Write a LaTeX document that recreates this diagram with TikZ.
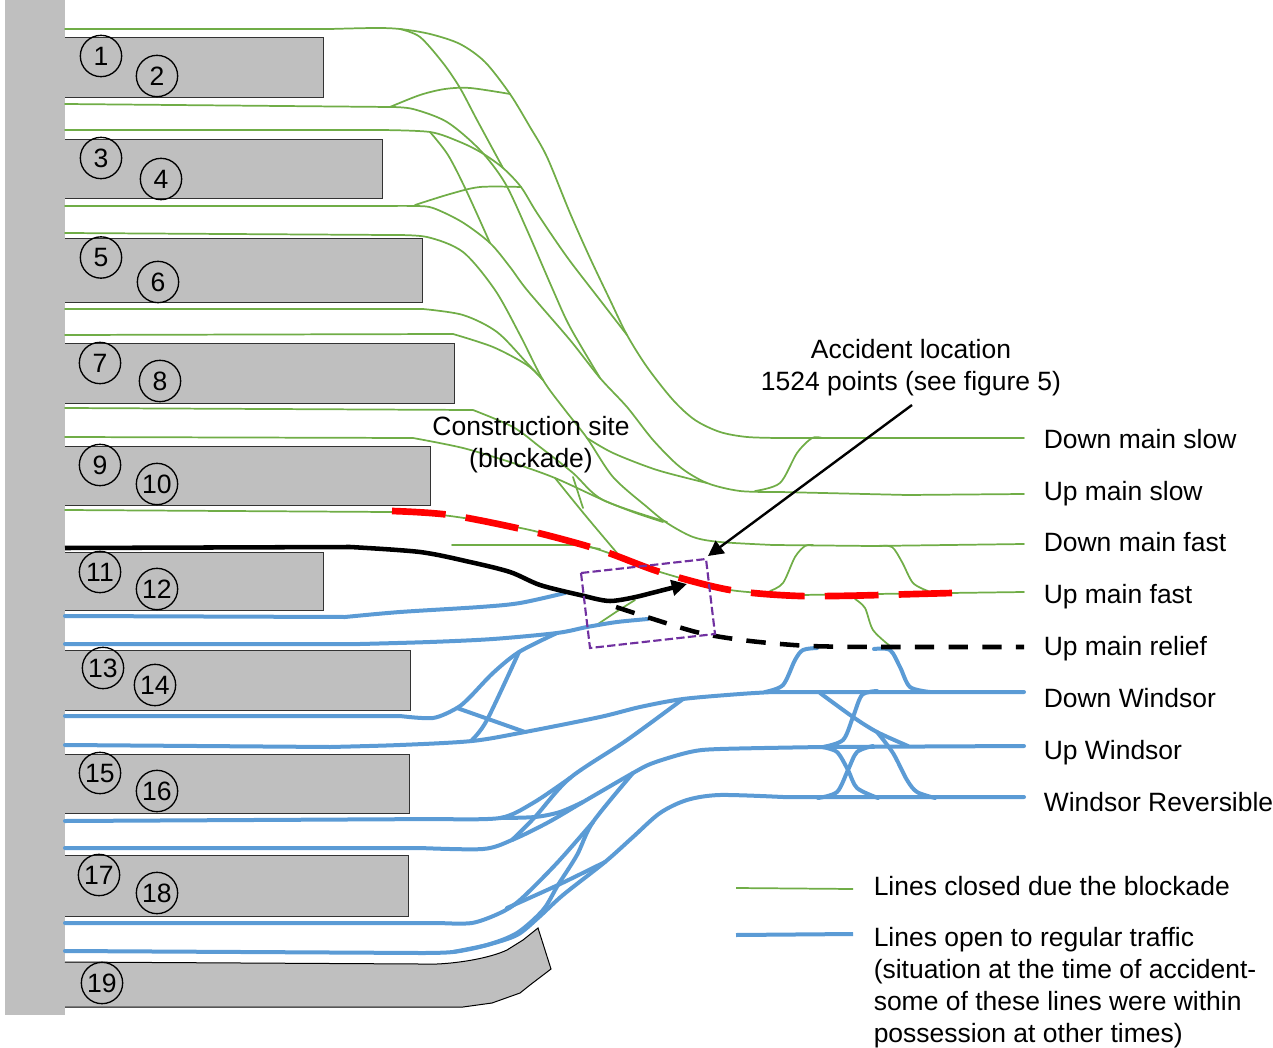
\documentclass[tikz,border=0pt]{standalone}
\usepackage{fontspec}
\setmainfont{Liberation Sans}
\usetikzlibrary{arrows.meta}
\tikzset{
  greenl/.style={draw=trkgreen,line width=1.3pt,line cap=round,line join=round},
  bluel/.style={draw=trkblue,line width=3pt,line cap=round,line join=round},
  plat/.style={fill=platgray,draw=black!80,line width=0.75pt},
  num/.style={circle,draw=black,line width=1pt,minimum size=31pt,inner sep=0pt,font=\fontsize{19.9}{24}\selectfont},
  lab/.style={anchor=west,inner sep=0pt,text height=14.3pt,text depth=0pt,font=\fontsize{19.85}{24}\selectfont},
  legendtxt/.style={anchor=west,inner sep=0pt,align=left,font=\fontsize{19.85}{24}\selectfont},
  note/.style={inner sep=0pt,align=center,font=\fontsize{19.85}{24}\selectfont},
}
\definecolor{trkgreen}{HTML}{70AD47}
\definecolor{trkblue}{HTML}{5B9BD5}
\definecolor{platgray}{HTML}{BFBFBF}
\definecolor{boxpurple}{HTML}{7030A0}
\newcommand\trk[2]{\draw[#1] plot[smooth,tension=0.5] coordinates {#2};}
\begin{document}
\begin{tikzpicture}[x=0.75pt,y=-0.75pt]
\useasboundingbox (0,0) rectangle (1273,1048);
% station
\fill[platgray] (5,0) rectangle (65,1015);
\draw[plat] (65,37.7) -- (323,37.7) -- (323,97.7) -- (65,97.7);
\draw[plat] (65,139.7) -- (382,139.7) -- (382,198.7) -- (65,198.7);
\draw[plat] (65,238.7) -- (422,238.7) -- (422,302.7) -- (65,302.7);
\draw[plat] (65,343.4) -- (454,343.4) -- (454,403.4) -- (65,403.4);
\draw[plat] (65,446) -- (430,446) -- (430,505.4) -- (65,505.4);
\draw[plat] (65,552) -- (323,552) -- (323,610) -- (65,610);
\draw[plat] (65,650) -- (410,650) -- (410,710) -- (65,710);
\draw[plat] (65,754) -- (409,754) -- (409,813) -- (65,813);
\draw[plat] (65,855) -- (408,855) -- (408,916) -- (65,916);
\fill[platgray] (65,962) -- (420,964) -- (437,964) .. controls (460,963) and (490,958) .. (507,950) -- (523,940) -- (538,928) -- (551,969) -- (530,985) -- (520,993) -- (492,1003) -- (463,1007) -- (65,1007) -- cycle;
\draw[black,line width=0.75pt] (65,962) -- (420,964) -- (437,964) .. controls (460,963) and (490,958) .. (507,950) -- (523,940) -- (538,928) -- (551,969) -- (530,985) -- (520,993) -- (492,1003) -- (463,1007) -- (65,1007);
% green tracks
\draw[greenl] (65,29) -- plot[smooth,tension=0.5] coordinates {(330,29) (375,28) (400,29) (430,34) (460,44) (485,62) (510,94) (530,127) (547,157) (570,213) (590,258) (610,300) (627,335) (647,367) (673,400) (695,420) (720,432) (747,437) (780,438)} -- (1024,438);
\trk{greenl}{(400,29) (420,37) (443,63) (460,88) (477,120) (503,168)}
\trk{greenl}{(390,107) (420,95) (445,89) (470,88) (510,94)}
\draw[greenl] (65,104) -- plot[smooth,tension=0.5] coordinates {(390,107) (413,109) (447,122) (480,150) (505,183) (527,230) (553,290) (570,327) (600,378)};
\draw[greenl] (65,130) -- plot[smooth,tension=0.5] coordinates {(380,130) (430,132) (460,142) (482,153) (503,168) (521,187) (537,213) (567,257) (600,300) (627,335)};
\trk{greenl}{(430,132) (448,155) (466,190) (490,243)}
\trk{greenl}{(415,205) (450,194) (480,187) (521,187)}
\draw[greenl] (65,206) -- plot[smooth,tension=0.5] coordinates {(380,206) (415,206) (433,208) (462,222) (490,243) (510,267) (527,290) (570,340) (600,378) (627,407) (653,440) (680,467) (707,483) (740,491) (780,492)} -- (823,493) -- (907,495) -- (1024,494);
\draw[greenl] (65,233) -- plot[smooth,tension=0.5] coordinates {(390,235) (427,237) (463,252) (495,290) (520,335) (543,380) (565,410) (587,438) (613,477) (647,507) (667,523) (693,537) (720,542) (773,545)} -- (873,546) -- (1024,544);
\draw[greenl] (65,309) -- plot[smooth,tension=0.5] coordinates {(423,309) (463,315) (497,332) (527,363) (543,380)};
\draw[greenl] (65,335) -- plot[smooth,tension=0.5] coordinates {(453,334) (493,347) (527,365) (543,380)};
\trk{greenl}{(587,438) (613,453) (657,470) (707,483)}
\draw[greenl] (65,408) -- plot[smooth,tension=0.5] coordinates {(473,410) (513,427) (540,447) (573,473) (603,500) (667,522)};
\draw[greenl] (65,437) -- plot[smooth,tension=0.5] coordinates {(413,438) (463,448) (513,463) (555,478) (603,500) (633,512) (663,522)};
\trk{greenl}{(555,478) (585,515) (617,553)}
\trk{greenl}{(573,477) (583,508)}
\draw[greenl] (65,510) -- plot[smooth,tension=0.5] coordinates {(390,512) (450,516) (530,530) (600,550) (660,572) (730,590) (800,595)} -- (1024,592);
\draw[greenl] (452,545) -- (577,545) -- (600,549);
\trk{greenl}{(755,491) (780,483) (797,453) (812,438) (822,438)}
\trk{greenl}{(770,591) (783,583) (795,557) (805,546) (813,545)}
\trk{greenl}{(878,546) (892,547) (902,562) (913,583) (928,591)}
\trk{greenl}{(855,599) (865,608) (873,630) (890,646)}
\trk{greenl}{(598,624) (616,612) (635,600)}
% red
\draw[red,line width=5pt,dash pattern=on 40.3pt off 15.15pt] plot[smooth,tension=0.5] coordinates {(392,511) (450,515) (530,531) (600,550) (660,572) (730,590) (800,596) (880,595)} -- (952,593);
% blue tracks
\draw[bluel] (65,616) -- (345,617) -- plot[smooth,tension=0.5] coordinates {(345,617) (400,612) (480,607) (520,603) (565,593)};
\draw[bluel] (65,644) -- (360,644) -- plot[smooth,tension=0.5] coordinates {(360,644) (430,642) (493,639) (557,633) (587,627) (617,622) (648,619)};
\draw[bluel] (65,716) -- plot[smooth,tension=0.5] coordinates {(400,716) (433,718) (457,708) (470,697) (493,673) (519,652) (557,633)};
\trk{bluel}{(519,652) (487,720) (472,740)}
\trk{bluel}{(457,708) (525,732)}
\draw[bluel] (65,745) -- plot[smooth,tension=0.5] coordinates {(330,747) (400,745) (472,741) (525,732) (600,717) (640,707) (683,699) (740,694) (773,692)} -- (1024,692);
\trk{bluel}{(683,699) (627,740) (570,778) (535,817) (512,840)}
\draw[bluel] (65,821) -- plot[smooth,tension=0.5] coordinates {(440,819) (500,818) (533,803) (570,778)};
\trk{bluel}{(500,818) (535,817) (560,812) (583,802)}
\draw[bluel] (65,848) -- plot[smooth,tension=0.5] coordinates {(420,848) (483,849) (512,840) (547,823) (583,802) (633,773) (653,763) (690,752) (720,749) (823,747)} -- (1024,746);
\trk{bluel}{(633,773) (593,822) (577,855) (558,885) (543,910) (517,933) (487,945) (453,952) (420,953)}
\draw[bluel] (65,951) -- (420,953);
\draw[bluel] (65,923) -- plot[smooth,tension=0.5] coordinates {(440,923) (472,923) (500,913) (520,900) (557,863) (593,822)};
\draw[bluel] plot[smooth,tension=0.5] coordinates {(453,952) (487,945) (517,935) (538,918) (563,895) (605,862) (633,837) (660,813) (687,800) (720,795) (783,797)} -- (1024,797);
\trk{bluel}{(605,862) (558,885) (507,908)}
\trk{bluel}{(765,692) (783,685) (795,660) (803,650) (817,648)}
\trk{bluel}{(874,649) (890,650) (900,667) (910,687) (930,692)}
\trk{bluel}{(820,693) (853,717) (877,732) (908,746)}
\trk{bluel}{(877,732) (893,753) (907,780) (917,792) (935,798)}
\trk{bluel}{(823,747) (843,740) (853,717) (862,695) (877,691)}
\trk{bluel}{(822,747) (837,752) (848,770) (857,788) (878,798)}
\trk{bluel}{(818,798) (837,792) (848,770) (857,752) (873,746)}
% black lines
\draw[black,line width=3.4pt,-{Triangle[length=11.5pt,width=11.5pt]}] (65,548) -- plot[smooth,tension=0.5] coordinates {(350,547) (420,552) (470,562) (510,572) (540,585) (580,595) (610,601) (640,596)} -- (687,584);
\draw[black,line width=3.4pt,dash pattern=on 14.6pt off 10.7pt] plot[smooth,tension=0.5] coordinates {(616,607) (650,618) (700,633) (750,641) (810,646) (880,647)} -- (1024,647);
% possession box
\draw[boxpurple,line width=1.6pt,dash pattern=on 6.2pt off 2.5pt] (581,573) -- (706,559) -- (715,634) -- (590,648) -- cycle;
% callout
\coordinate (accStart) at (912,405);
\coordinate (accTip) at (708,556);
\draw[black,line width=1.8pt,-{Triangle[length=11.5pt,width=11.5pt]}] (accStart) -- (accTip);
% numbers
\node[num] (n1) at (101,56) {1};
\node[num] (n2) at (157,76) {2};
\node[num] (n3) at (101,158) {3};
\node[num] (n4) at (161,179) {4};
\node[num] (n5) at (101,257.5) {5};
\node[num] (n6) at (158,282) {6};
\node[num] (n7) at (100,363) {7};
\node[num] (n8) at (160,381) {8};
\node[num] (n9) at (100,465) {9};
\node[num] (n10) at (157,484) {10};
\node[num] (n11) at (100,572) {11};
\node[num] (n12) at (157,589) {12};
\node[num] (n13) at (103,668) {13};
\node[num] (n14) at (155,685) {14};
\node[num] (n15) at (100,773) {15};
\node[num] (n16) at (157,791) {16};
\node[num] (n17) at (99,875) {17};
\node[num] (n18) at (157,893) {18};
\node[num] (n19) at (102,983) {19};
% labels
\node[note] (construction) at (531,445) {Construction site\\(blockade)};
\node[note] (accident) at (911,368) {Accident location\\1524 points (see figure 5)};
\node[lab] (dms) at (1043.5,439) {Down main slow};
\node[lab] (ums) at (1043.5,491) {Up main slow};
\node[lab] (dmf) at (1043.5,542) {Down main fast};
\node[lab] (umf) at (1043.5,594) {Up main fast};
\node[lab] (umr) at (1043.5,646) {Up main relief};
\node[lab] (dw) at (1043.5,698) {Down Windsor};
\node[lab] (uw) at (1043.5,750) {Up Windsor};
\node[lab] (wr) at (1043.5,802) {Windsor Reversible};
% legend
\coordinate (lg1) at (736,888); \coordinate (lg2) at (853,889);
\coordinate (lb1) at (736,935); \coordinate (lb2) at (853,934);
\draw[greenl,line cap=butt] (lg1) -- (lg2);
\draw[bluel,line cap=butt] (lb1) -- (lb2);
\node[legendtxt] (legendclosed) at (873.5,886) {Lines closed due the blockade};
\node[legendtxt] (legendopen) at (873.5,988) {Lines open to regular traffic\\(situation at the time of accident-\\some of these lines were within\\possession at other times)};
\end{tikzpicture}
\end{document}
